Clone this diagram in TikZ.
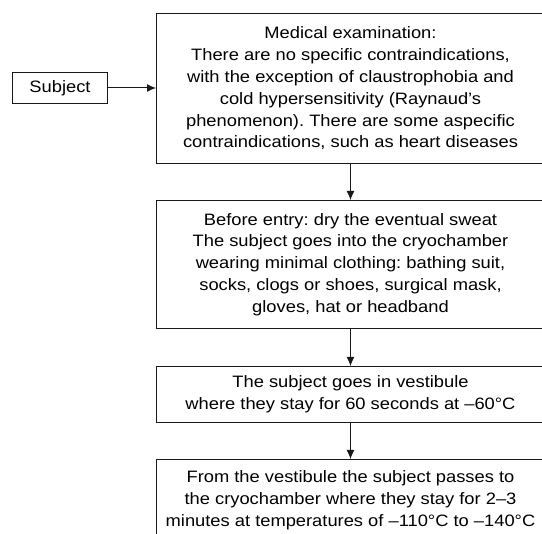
\documentclass[tikz,border=0pt]{standalone}
\usepackage{fontspec}
\setmainfont{Liberation Sans}[FakeStretch=1.11]
\usetikzlibrary{arrows.meta}
\begin{document}
\frenchspacing
\begin{tikzpicture}[x=1pt,y=-1pt,
  box/.style={draw=black!90, line width=1pt, rectangle, anchor=north west, inner sep=0pt,
    align=center, font=\fontsize{16.5}{21.8}\selectfont, text=black},
  arr/.style={draw=black!90, line width=1pt, -{Latex[length=9pt,width=8pt]}}]
\useasboundingbox (0,0) rectangle (542,534);
\clip (0,0) rectangle (542,534);
\node[box, minimum width=95pt, minimum height=31pt] (s) at (12,72) {Subject};
\node[box, minimum width=388pt, minimum height=149.4pt] (b1) at (156,13.3)
  {Medical examination:\\There are no specific contraindications,\\with the exception of claustrophobia and\\cold hypersensitivity (Raynaud’s\\phenomenon). There are some aspecific\\contraindications, such as heart diseases};
\node[box, minimum width=388pt, minimum height=128pt] (b2) at (156,200)
  {Before entry: dry the eventual sweat\\The subject goes into the cryochamber\\wearing minimal clothing: bathing suit,\\socks, clogs or shoes, surgical mask,\\gloves, hat or headband};
\node[box, minimum width=388pt, minimum height=56pt] (b3) at (156,366)
  {The subject goes in vestibule\\where they stay for 60 seconds at –60°C};
\node[box, minimum width=388pt, minimum height=82pt] (b4) at (156,459)
  {From the vestibule the subject passes to\\the cryochamber where they stay for 2–3\\minutes at temperatures of –110°C to –140°C};
\draw[arr] (s.east) -- (s.east -| b1.west);
\draw[arr] (b1.south) -- (b2.north);
\draw[arr] (b2.south) -- (b3.north);
\draw[arr] (b3.south) -- (b4.north);
\end{tikzpicture}
\end{document}
